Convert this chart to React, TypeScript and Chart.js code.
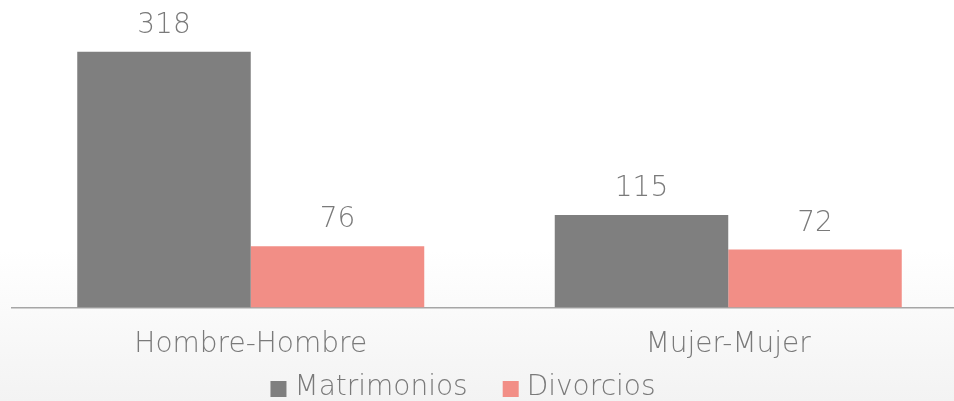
import React, { useEffect, useRef } from "react";
import { Chart, registerables } from "chart.js";

Chart.register(...registerables);

const categories = ["Hombre-Hombre", "Mujer-Mujer"];
const seriesNames = ["Matrimonios", "Divorcios"];
const matrimonios = [318, 115];
const divorcios = [76, 72];
const seriesColors = ["#7f7f7f", "#f28e86"];
const yMax = 350;

const FONT = "'DejaVu Sans', sans-serif";
const TEXT = "#7a7a7a";
const WEIGHT = "200";

const bgPlugin = {
  id: "bgGradient",
  beforeDraw(chart: any) {
    const { ctx, width, height } = chart;
    ctx.save();
    const g = ctx.createLinearGradient(0, 250, 0, height);
    g.addColorStop(0, "#ffffff");
    g.addColorStop(1, "#f3f3f3");
    ctx.fillStyle = g;
    ctx.fillRect(0, 0, width, height);
    ctx.restore();
  },
};

const labelPlugin = {
  id: "valueLabels",
  afterDatasetsDraw(chart: any) {
    const { ctx } = chart;
    ctx.save();
    ctx.font = `${WEIGHT} 28px ${FONT}`;
    ctx.fillStyle = TEXT;
    ctx.textAlign = "center";
    ctx.textBaseline = "alphabetic";
    chart.data.datasets.forEach((ds: any, i: number) => {
      const meta = chart.getDatasetMeta(i);
      meta.data.forEach((bar: any, j: number) => {
        ctx.fillText(String(ds.data[j]), bar.x, bar.y - 19);
      });
    });
    ctx.restore();
  },
};

// Legend drawn on the canvas: 16px squares, tight text gap, wide item gap
const legendPlugin = {
  id: "customLegend",
  afterDraw(chart: any) {
    const { ctx } = chart;
    const box = 16;
    const gapText = 8;
    const gapItem = 35;
    const centerX = 463;
    const midY = 388;
    ctx.save();
    ctx.font = `${WEIGHT} 28px ${FONT}`;
    const items = chart.data.datasets.map((ds: any) => ({
      text: ds.label,
      color: ds.backgroundColor,
      w: ctx.measureText(ds.label).width,
    }));
    const total =
      items.reduce((s: number, it: any) => s + box + gapText + it.w, 0) +
      gapItem * (items.length - 1);
    let x = centerX - total / 2;
    ctx.textBaseline = "middle";
    ctx.textAlign = "left";
    items.forEach((it: any) => {
      ctx.fillStyle = it.color;
      ctx.fillRect(x, midY - box / 2 + 1, box, box);
      x += box + gapText;
      ctx.fillStyle = TEXT;
      ctx.fillText(it.text, x, midY);
      x += it.w + gapItem;
    });
    ctx.restore();
  },
};

export default function App() {
  const ref = useRef<HTMLCanvasElement>(null);
  useEffect(() => {
    if (!ref.current) return;
    const chart = new Chart(ref.current, {
      type: "bar",
      data: {
        labels: categories,
        datasets: [
          {
            label: seriesNames[0],
            data: matrimonios,
            backgroundColor: seriesColors[0],
            borderWidth: 0,
          },
          {
            label: seriesNames[1],
            data: divorcios,
            backgroundColor: seriesColors[1],
            borderWidth: 0,
          },
        ],
      },
      options: {
        animation: false,
        responsive: true,
        maintainAspectRatio: false,
        layout: { padding: { left: 12, right: 0, top: 26, bottom: 18 } },
        datasets: {
          bar: { categoryPercentage: 0.7267, barPercentage: 1.0 },
        },
        plugins: {
          legend: { display: false },
          tooltip: { enabled: false },
        },
        scales: {
          x: {
            grid: { display: false, drawTicks: false },
            border: { display: true, color: "#a6a6a6", width: 1.5 },
            ticks: {
              color: TEXT,
              padding: 21,
              font: { family: FONT, size: 28, weight: WEIGHT as any },
            },
          },
          y: {
            display: false,
            min: 0,
            max: yMax,
          },
        },
      },
      plugins: [bgPlugin, labelPlugin, legendPlugin],
    });
    return () => chart.destroy();
  }, []);
  return (
    <div
      style={{
        position: "fixed",
        left: 0,
        top: 0,
        width: 954,
        height: 401,
        overflow: "hidden",
        background: "#fff",
      }}
    >
      <div style={{ position: "relative", width: 967, height: 401 }}>
        <canvas ref={ref} />
      </div>
    </div>
  );
}
